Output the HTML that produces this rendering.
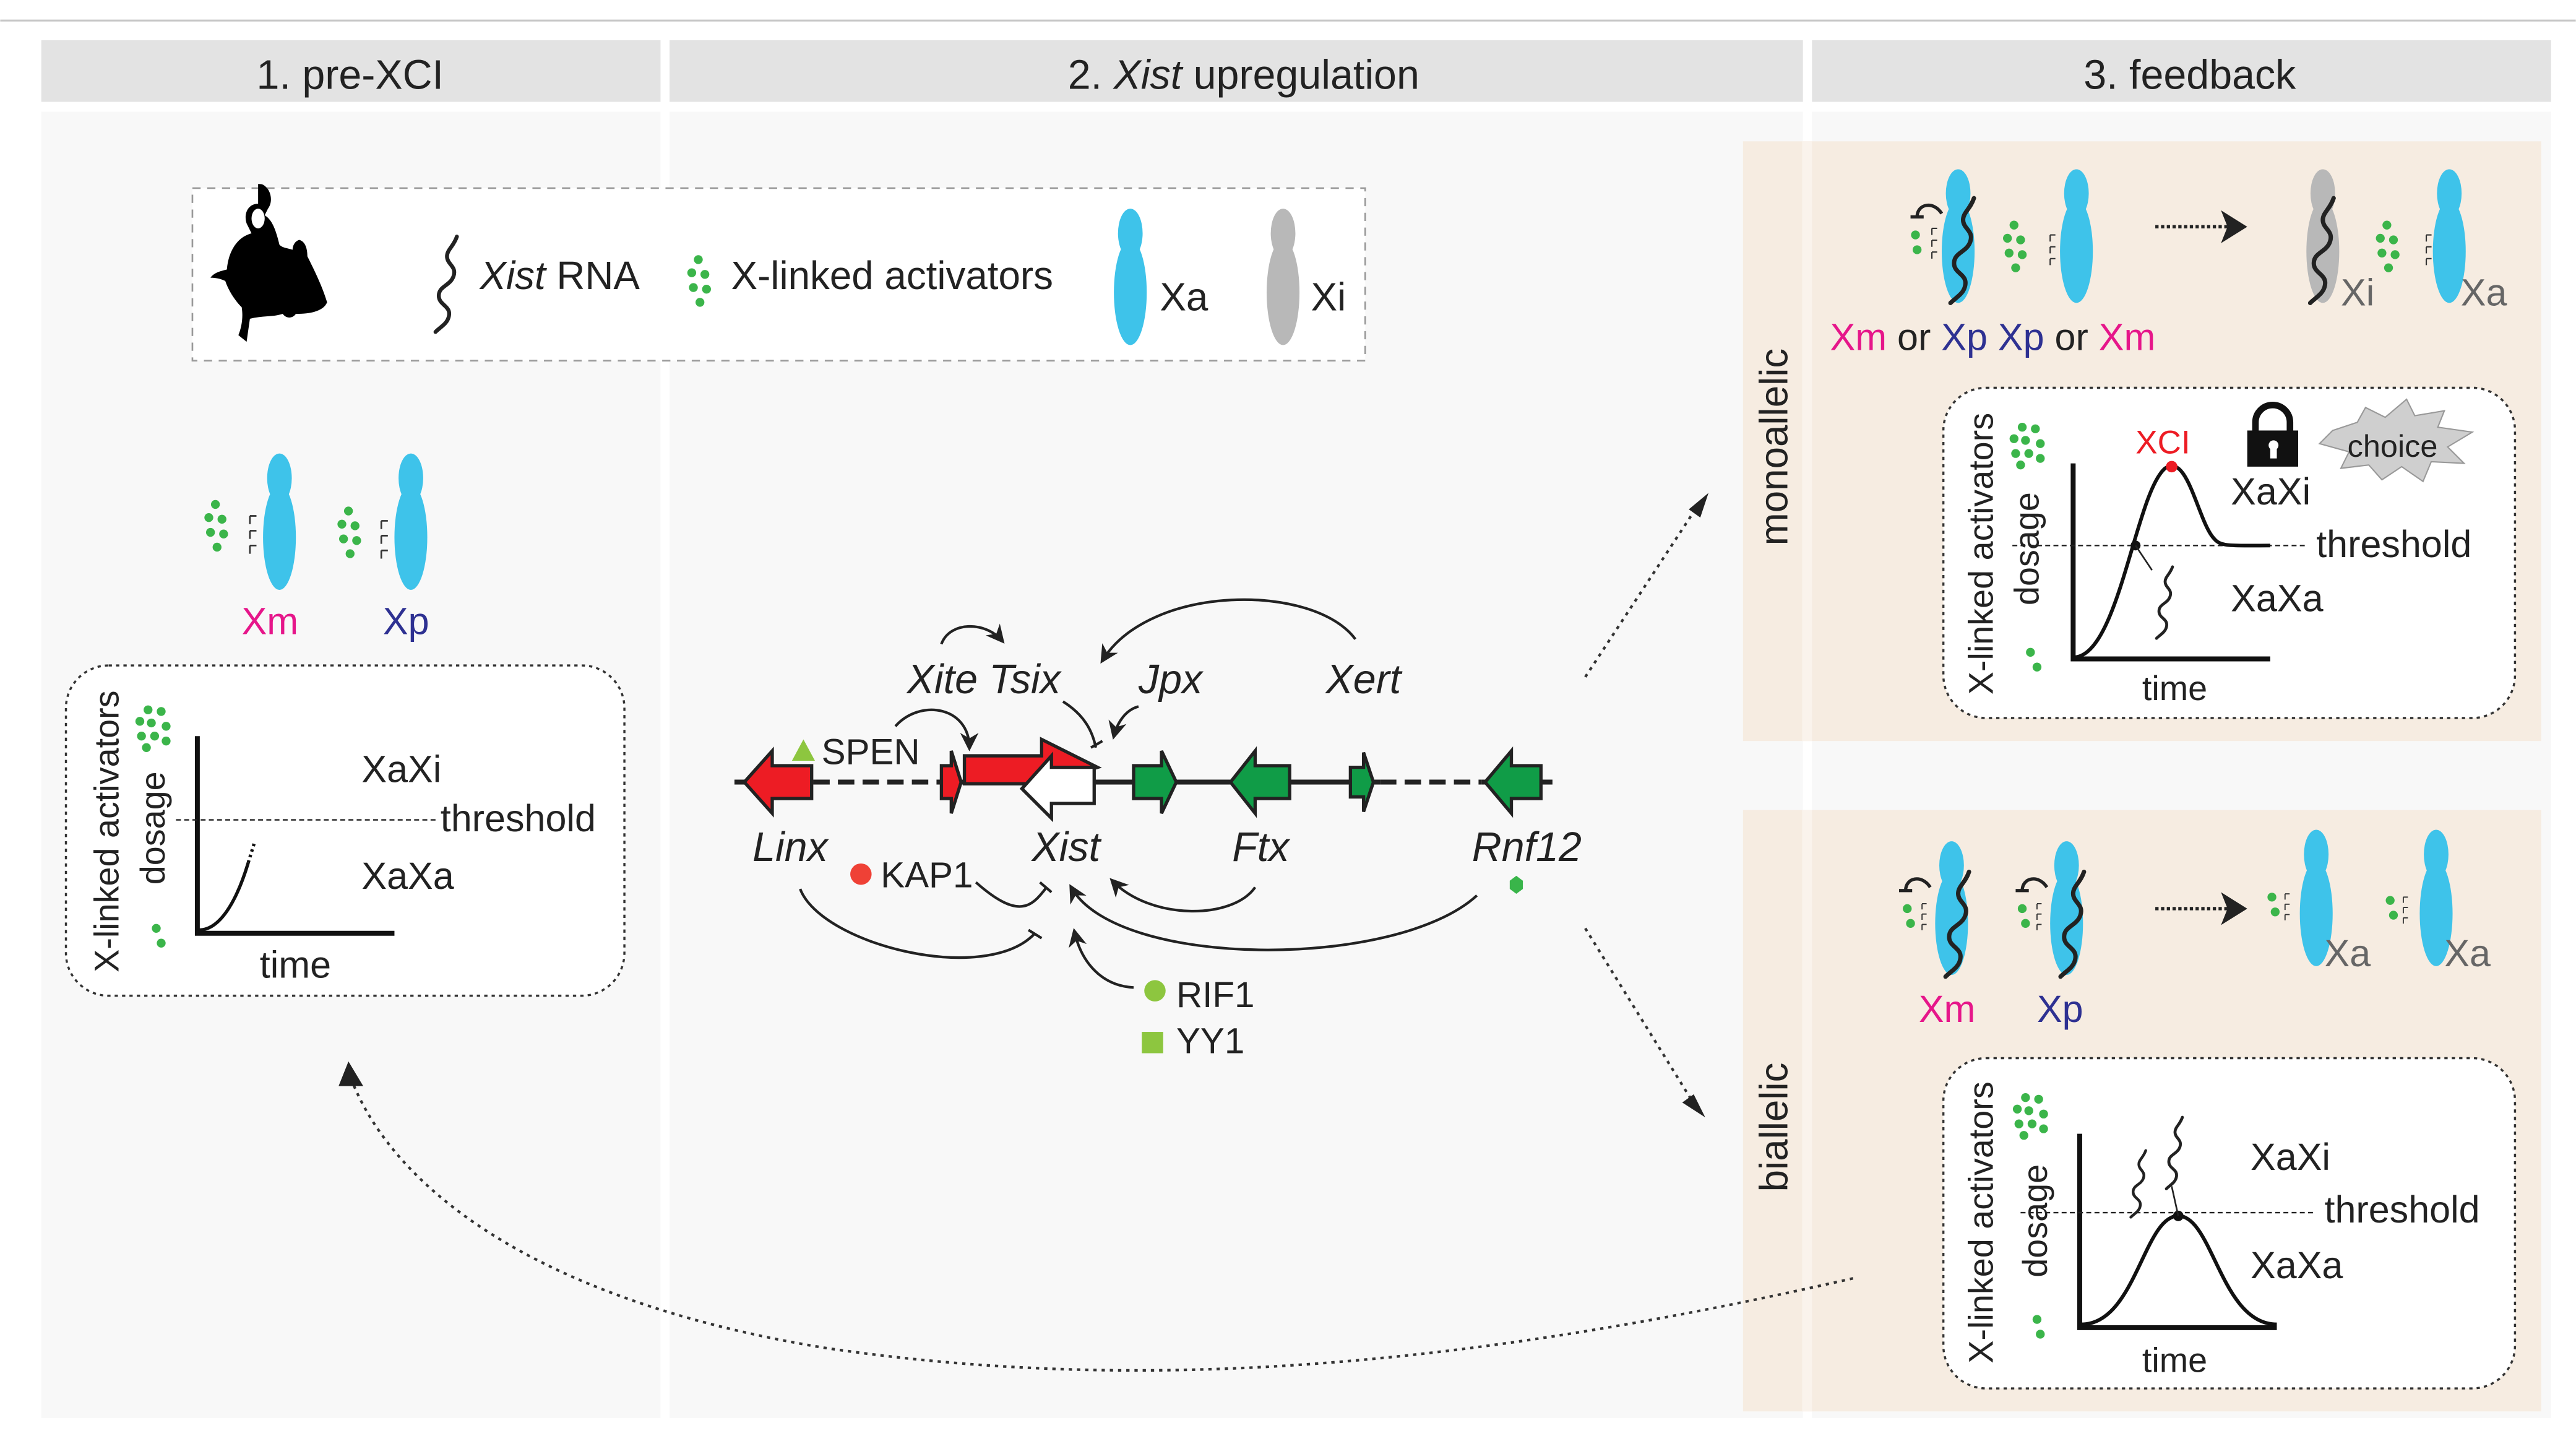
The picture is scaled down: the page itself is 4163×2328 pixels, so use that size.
<!DOCTYPE html>
<html><head><meta charset="utf-8"><style>
html,body{margin:0;padding:0;background:#fff;}
svg{display:block;}
text{font-family:"Liberation Sans",sans-serif;fill:#222;}
.it{font-style:italic;}
</style></head><body>
<svg width="4163" height="2328" viewBox="0 0 1568 877" xmlns="http://www.w3.org/2000/svg">
<defs>
<g id="chr"><ellipse cx="0" cy="14" rx="7.5" ry="15"/><ellipse cx="0" cy="50" rx="10" ry="32"/></g>
<path id="sq" d="M6,-4 c-2,6 -6,8 -6,12 c0,5 6,6 4,12 c-2,6 -9,6 -9,12 c0,6 8,6 6,13 c-1,4 -5,6 -8,9" fill="none" stroke="#222" stroke-width="2.4" stroke-linecap="round"/>
<g id="dots6" fill="#3bb54a"><circle cx="4" cy="0" r="2.7"/><circle cx="0" cy="8" r="2.7"/><circle cx="8" cy="9" r="2.7"/><circle cx="1" cy="17" r="2.7"/><circle cx="9" cy="18" r="2.7"/><circle cx="5" cy="26" r="2.7"/></g>
<g id="dots9" fill="#3bb54a"><circle cx="6" cy="0" r="2.7"/><circle cx="14" cy="1" r="2.7"/><circle cx="1" cy="7" r="2.7"/><circle cx="8" cy="8" r="2.7"/><circle cx="17" cy="10" r="2.7"/><circle cx="2" cy="16" r="2.7"/><circle cx="10" cy="16" r="2.7"/><circle cx="17" cy="19" r="2.7"/><circle cx="5" cy="23" r="2.7"/></g>
<g id="ticks" fill="none" stroke="#333" stroke-width="1"><path d="M0,0 h4 M0,0 v5 M0,9 h4 M0,9 v5 M0,18 h4 M0,18 v5"/></g>
<marker id="ah" viewBox="0 0 10 10" refX="8" refY="5" markerWidth="7" markerHeight="7" orient="auto"><path d="M0,0 L10,5 L0,10 L3,5 z" fill="#222"/></marker>
</defs>
<rect width="1568" height="877" fill="#fff"/>
<line x1="0" y1="12.5" x2="1568" y2="12.5" stroke="#c8c8c8" stroke-width="1.2"/>
<rect x="25" y="24.5" width="377" height="37.5" fill="#e3e3e3"/>
<rect x="407.5" y="24.5" width="690" height="37.5" fill="#e3e3e3"/>
<rect x="1103" y="24.5" width="450" height="37.5" fill="#e3e3e3"/>
<text x="213" y="54" font-size="25" text-anchor="middle">1. pre-XCI</text>
<text x="757" y="54" font-size="25" text-anchor="middle">2. <tspan class="it">Xist</tspan> upregulation</text>
<text x="1333" y="54" font-size="25" text-anchor="middle">3. feedback</text>
<rect x="25" y="68" width="377" height="795" fill="#f8f8f8"/>
<rect x="407.5" y="68" width="690" height="795" fill="#f8f8f8"/>
<rect x="1103" y="68" width="450" height="795" fill="#f8f8f8"/>
<rect x="1061" y="86" width="486" height="365" fill="#f6ece1"/>
<rect x="1061" y="493" width="486" height="366" fill="#f6ece1"/>
<rect x="1097" y="86" width="6" height="365" fill="#faf3ec"/>
<rect x="1097" y="493" width="6" height="366" fill="#faf3ec"/>

<!-- legend -->
<rect x="117" y="114.5" width="714" height="105" fill="#fff" stroke="#999" stroke-dasharray="5,4"/>
<path d="M157,124 c-6,0 -9,6 -7,12 l3,6 c-8,2 -14,10 -15,22 c-4,1 -8,2 -10,5 c4,0 7,1 9,2 c2,6 6,12 10,16 c1,6 0,12 -2,17 l5,4 l2,-14 c8,-2 14,-1 20,-3 c2,3 6,3 8,0 c10,0 17,-2 19,-7 c-3,-10 -8,-20 -12,-28 c0,-4 -1,-9 -5,-10 c-3,1 -4,4 -4,6 c-3,-1 -6,-1 -8,-3 c-2,-8 -4,-15 -9,-18 l2,-4 c3,-4 2,-10 -1,-13 c-2,-2 -3,-2 -5,-2 z" fill="#000"/>
<ellipse cx="157" cy="133" rx="4" ry="6" fill="#fff"/>
<use href="#sq" transform="translate(272,148) scale(1)"/>
<text x="292" y="176" font-size="24"><tspan class="it">Xist</tspan> RNA</text>
<use href="#dots6" transform="translate(421,158) scale(1)"/>
<text x="445" y="176" font-size="24">X-linked activators</text>
<use href="#chr" transform="translate(688,128)" fill="#3ec3ea"/>
<text x="706" y="189" font-size="24">Xa</text>
<use href="#chr" transform="translate(781,128)" fill="#b8b8b8"/>
<text x="798" y="189" font-size="24">Xi</text>

<!-- col1 -->
<use href="#chr" transform="translate(170,277)" fill="#3ec3ea"/>
<use href="#chr" transform="translate(250,277)" fill="#3ec3ea"/>
<use href="#dots6" transform="translate(127,307)"/>
<use href="#dots6" transform="translate(208,311)"/>
<use href="#ticks" transform="translate(152,314)"/>
<use href="#ticks" transform="translate(232,317)"/>
<text x="147" y="386" font-size="23" style="fill:#e6168a">Xm</text>
<text x="233" y="386" font-size="23" style="fill:#2e3192">Xp</text>
<rect x="40" y="405" width="340" height="201" rx="26" fill="#fff" stroke="#333" stroke-width="1.3" stroke-dasharray="2,2.5"/>
<use href="#dots9" transform="translate(84,432)"/>
<circle cx="95" cy="565" r="2.7" fill="#3bb54a"/><circle cx="98" cy="574" r="2.7" fill="#3bb54a"/>
<text transform="translate(72,506) rotate(-90)" font-size="21" text-anchor="middle">X-linked activators</text>
<text transform="translate(100,504) rotate(-90)" font-size="21" text-anchor="middle">dosage</text>
<path d="M120,448 V568 H240" fill="none" stroke="#111" stroke-width="3"/>
<path d="M121,566 C135,566 145,545 151,525" fill="none" stroke="#111" stroke-width="2"/>
<path d="M151,525 L155,512" fill="none" stroke="#111" stroke-width="2" stroke-dasharray="1.5,2"/>
<line x1="107" y1="499" x2="265" y2="499" stroke="#222" stroke-width="0.9" stroke-dasharray="3,2"/>
<text x="268" y="506" font-size="23">threshold</text>
<text x="220" y="476" font-size="23">XaXi</text>
<text x="220" y="541" font-size="23">XaXa</text>
<text x="158" y="595" font-size="23">time</text>

<!-- col2 gene map -->
<g stroke="#222" stroke-width="3" fill="none">
<line x1="447" y1="476" x2="495" y2="476"/>
<line x1="495" y1="476" x2="580" y2="476" stroke-dasharray="10,5"/>
<line x1="580" y1="476" x2="840" y2="476"/>
<line x1="840" y1="476" x2="902" y2="476" stroke-dasharray="10,5"/>
<line x1="902" y1="476" x2="945" y2="476"/>
</g>
<g stroke="#222" stroke-width="2" stroke-linejoin="miter">
<path d="M494,466 L470,466 L470,457 L453,476 L470,495 L470,486 L494,486 z" fill="#ed1c24"/>
<path d="M573,466 L579,466 L579,457 L585,476 L579,495 L579,486 L573,486 z" fill="#ed1c24"/>
<path d="M587,460 L634,460 L634,450 L668,467 L634,477 L587,477 z" fill="#ed1c24"/>
<path d="M666,467 L640,467 L640,460 L622,480 L640,498 L640,489 L666,489 z" fill="#fff"/>
<path d="M690,466 L707,466 L707,457 L716,476 L707,495 L707,486 L690,486 z" fill="#109c47"/>
<path d="M785,466 L764,466 L764,457 L749,476 L764,495 L764,486 L785,486 z" fill="#109c47"/>
<path d="M822,467 L830,467 L830,458 L836,476 L830,494 L830,485 L822,485 z" fill="#109c47"/>
<path d="M938,466 L920,466 L920,457 L904,476 L920,495 L920,486 L938,486 z" fill="#109c47"/>
</g>
<text x="458" y="524" font-size="25" class="it">Linx</text>
<text x="628" y="524" font-size="25" class="it">Xist</text>
<text x="750" y="524" font-size="25" class="it">Ftx</text>
<text x="896" y="524" font-size="25" class="it">Rnf12</text>
<text x="552" y="422" font-size="25" class="it">Xite Tsix</text>
<text x="693" y="422" font-size="25" class="it">Jpx</text>
<text x="807" y="422" font-size="25" class="it">Xert</text>
<path d="M482,463 L489,450 L496,463 z" fill="#8dc63f"/>
<text x="500" y="465" font-size="22">SPEN</text>
<circle cx="524" cy="532" r="6.5" fill="#ef4136"/>
<text x="536" y="540" font-size="22">KAP1</text>
<circle cx="703" cy="603" r="6.5" fill="#8dc63f"/>
<text x="716" y="613" font-size="22">RIF1</text>
<rect x="695" y="628" width="13" height="13" fill="#8dc63f"/>
<text x="716" y="641" font-size="22">YY1</text>
<path d="M923,533 l4,3 v5 l-4,3 l-4,-3 v-5 z" fill="#39b54a"/>
<g fill="none" stroke="#222" stroke-width="1.6">
<path d="M573,392 C578,378 600,378 610,390" marker-end="url(#ah)"/>
<path d="M825,389 C800,355 700,355 671,402" marker-end="url(#ah)"/>
<path d="M545,442 C560,425 590,430 590,455" marker-end="url(#ah)"/>
<path d="M647,427 C660,435 665,445 667,455"/>
<path d="M664,455 L671,451"/>
<path d="M693,430 C685,432 680,440 678,448" marker-end="url(#ah)"/>
<path d="M764,540 C750,560 700,560 677,536" marker-end="url(#ah)"/>
<path d="M899,545 C850,590 680,590 652,540" marker-end="url(#ah)"/>
<path d="M487,541 C500,575 600,600 630,568"/>
<path d="M626,566 L634,571"/>
<path d="M594,537 C620,560 628,552 637,540"/>
<path d="M633,537 L640,543"/>
<path d="M690,601 C670,600 658,585 654,567" marker-end="url(#ah)"/>
</g>
<g fill="none" stroke="#333" stroke-width="1.6" stroke-dasharray="2,3">
<path d="M965,412 L1032,310"/>
<path d="M965,565 L1030,670"/>
<path d="M1128,778 C900,830 700,850 500,820 C320,790 240,720 215,660"/>
</g>
<path d="M1040,300 L1035,315 L1028,310 z" fill="#222"/>
<path d="M1038,680 L1024,671 L1031,666 z" fill="#222"/>
<path d="M212,646 L221,661 L206,661 z" fill="#222"/>

<!-- monoallelic -->
<text transform="translate(1088,272) rotate(-90)" font-size="24" text-anchor="middle">monoallelic</text>
<use href="#chr" transform="translate(1192,104) scale(1,0.98)" fill="#3ec3ea"/>
<use href="#chr" transform="translate(1264,104) scale(1,0.98)" fill="#3ec3ea"/>
<use href="#sq" transform="translate(1195,125) scale(1.1)"/>
<path d="M1163,132 h8 M1167,132 c0,-8 10,-10 15,-2" fill="none" stroke="#222" stroke-width="2"/>
<circle cx="1166" cy="143" r="2.7" fill="#3bb54a"/><circle cx="1167" cy="152" r="2.7" fill="#3bb54a"/>
<use href="#ticks" transform="translate(1176,139) scale(0.8)"/>
<use href="#dots6" transform="translate(1222,137)"/>
<use href="#ticks" transform="translate(1248,143) scale(0.8)"/>
<path d="M1312,138 H1358" stroke="#222" stroke-width="2" stroke-dasharray="2,1.5" fill="none"/>
<path d="M1368,138 L1352,128 L1356,138 L1352,148 z" fill="#222"/>
<use href="#chr" transform="translate(1414,104) scale(1,0.98)" fill="#b8b8b8"/>
<use href="#sq" transform="translate(1414,125) scale(1.1)"/>
<text x="1425" y="186" font-size="23" style="fill:#666">Xi</text>
<use href="#dots6" transform="translate(1449,137)"/>
<use href="#ticks" transform="translate(1477,143) scale(0.8)"/>
<use href="#chr" transform="translate(1491,104) scale(1,0.98)" fill="#3ec3ea"/>
<text x="1498" y="186" font-size="23" style="fill:#666">Xa</text>
<text x="1114" y="213" font-size="23"><tspan style="fill:#e6168a">Xm</tspan> or <tspan style="fill:#2e3192">Xp</tspan>  <tspan style="fill:#2e3192">Xp</tspan> or <tspan style="fill:#e6168a">Xm</tspan></text>
<rect x="1183" y="236" width="348" height="201" rx="26" fill="#fff" stroke="#333" stroke-width="1.3" stroke-dasharray="2,2.5"/>
<text transform="translate(1213,337) rotate(-90)" font-size="21" text-anchor="middle">X-linked activators</text>
<text transform="translate(1241,334) rotate(-90)" font-size="21" text-anchor="middle">dosage</text>
<use href="#dots9" transform="translate(1225,260)"/>
<circle cx="1236" cy="397" r="2.7" fill="#3bb54a"/><circle cx="1240" cy="406" r="2.7" fill="#3bb54a"/>
<path d="M1262,282 V401 H1382" fill="none" stroke="#111" stroke-width="3"/>
<line x1="1225" y1="332" x2="1405" y2="332" stroke="#222" stroke-width="0.9" stroke-dasharray="3,2"/>
<path d="M1263,400 C1290,398 1300,300 1318,285 C1332,275 1338,318 1348,328 C1352,333 1360,332 1382,332" fill="none" stroke="#111" stroke-width="2.2"/>
<circle cx="1300" cy="332" r="3" fill="#111"/>
<circle cx="1322" cy="284" r="3.5" fill="#ed1c24"/>
<line x1="1300" y1="332" x2="1310" y2="347" stroke="#222" stroke-width="1"/>
<use href="#sq" transform="translate(1318,348) scale(0.75)"/>
<text x="1300" y="276" font-size="20" style="fill:#ed1c24">XCI</text>
<rect x="1368" y="262" width="31" height="22" fill="#111"/>
<path d="M1373,263 v-6 a10,10 0 0 1 21,0 v6" fill="none" stroke="#111" stroke-width="4"/>
<circle cx="1384" cy="271" r="3" fill="#fff"/><rect x="1382" y="272" width="4" height="7" fill="#fff"/>
<path d="M1420,262 L1435,257 L1440,248 L1452,254 L1465,243 L1470,253 L1488,250 L1484,260 L1505,263 L1490,272 L1500,282 L1480,281 L1475,293 L1462,284 L1450,292 L1442,283 L1425,285 L1430,275 L1412,270 z" fill="#cfcfcf" stroke="#999" stroke-width="0.8"/>
<text x="1429" y="278" font-size="19">choice</text>
<text x="1358" y="307" font-size="23">XaXi</text>
<text x="1410" y="339" font-size="23">threshold</text>
<text x="1358" y="372" font-size="23">XaXa</text>
<text x="1304" y="426" font-size="21">time</text>

<!-- biallelic -->
<text transform="translate(1088,686) rotate(-90)" font-size="24" text-anchor="middle">biallelic</text>
<use href="#chr" transform="translate(1188,513) scale(1,0.98)" fill="#3ec3ea"/>
<use href="#chr" transform="translate(1258,513) scale(1,0.98)" fill="#3ec3ea"/>
<use href="#sq" transform="translate(1192,535) scale(1.1)"/>
<use href="#sq" transform="translate(1262,535) scale(1.1)"/>
<path d="M1156,542 h8 M1160,542 c0,-8 10,-10 15,-2" fill="none" stroke="#222" stroke-width="2"/>
<path d="M1227,542 h8 M1231,542 c0,-8 10,-10 15,-2" fill="none" stroke="#222" stroke-width="2"/>
<circle cx="1161" cy="553" r="2.7" fill="#3bb54a"/><circle cx="1163" cy="562" r="2.7" fill="#3bb54a"/>
<circle cx="1231" cy="553" r="2.7" fill="#3bb54a"/><circle cx="1233" cy="562" r="2.7" fill="#3bb54a"/>
<use href="#ticks" transform="translate(1170,550) scale(0.7)"/>
<use href="#ticks" transform="translate(1240,550) scale(0.7)"/>
<text x="1168" y="622" font-size="23" style="fill:#e6168a">Xm</text>
<text x="1240" y="622" font-size="23" style="fill:#2e3192">Xp</text>
<path d="M1312,553 H1358" stroke="#222" stroke-width="2" stroke-dasharray="2,1.5" fill="none"/>
<path d="M1368,553 L1352,543 L1356,553 L1352,563 z" fill="#222"/>
<use href="#chr" transform="translate(1410,506) scale(1,1)" fill="#3ec3ea"/>
<use href="#chr" transform="translate(1483,506) scale(1,1)" fill="#3ec3ea"/>
<circle cx="1383" cy="546" r="2.7" fill="#3bb54a"/><circle cx="1385" cy="555" r="2.7" fill="#3bb54a"/>
<circle cx="1455" cy="548" r="2.7" fill="#3bb54a"/><circle cx="1457" cy="557" r="2.7" fill="#3bb54a"/>
<use href="#ticks" transform="translate(1391,544) scale(0.7)"/>
<use href="#ticks" transform="translate(1463,546) scale(0.7)"/>
<text x="1415" y="588" font-size="23" style="fill:#666">Xa</text>
<text x="1488" y="588" font-size="23" style="fill:#666">Xa</text>
<rect x="1183" y="644" width="348" height="201" rx="26" fill="#fff" stroke="#333" stroke-width="1.3" stroke-dasharray="2,2.5"/>
<text transform="translate(1213,744) rotate(-90)" font-size="21" text-anchor="middle">X-linked activators</text>
<text transform="translate(1246,743) rotate(-90)" font-size="21" text-anchor="middle">dosage</text>
<use href="#dots9" transform="translate(1227,668)"/>
<circle cx="1240" cy="803" r="2.7" fill="#3bb54a"/><circle cx="1242" cy="812" r="2.7" fill="#3bb54a"/>
<path d="M1266,690 V808 H1386" fill="none" stroke="#111" stroke-width="3"/>
<line x1="1230" y1="738" x2="1410" y2="738" stroke="#222" stroke-width="0.9" stroke-dasharray="3,2"/>
<path d="M1267,806 C1300,806 1305,740 1326,740 C1347,740 1352,806 1386,806" fill="none" stroke="#111" stroke-width="2.2"/>
<circle cx="1326" cy="740" r="3.2" fill="#111"/>
<line x1="1326" y1="740" x2="1322" y2="722" stroke="#222" stroke-width="1"/>
<use href="#sq" transform="translate(1302,703) scale(0.7)"/>
<use href="#sq" transform="translate(1324,683) scale(0.75)"/>
<text x="1370" y="712" font-size="23">XaXi</text>
<text x="1415" y="744" font-size="23">threshold</text>
<text x="1370" y="778" font-size="23">XaXa</text>
<text x="1304" y="835" font-size="21">time</text>
</svg>
</body></html>
